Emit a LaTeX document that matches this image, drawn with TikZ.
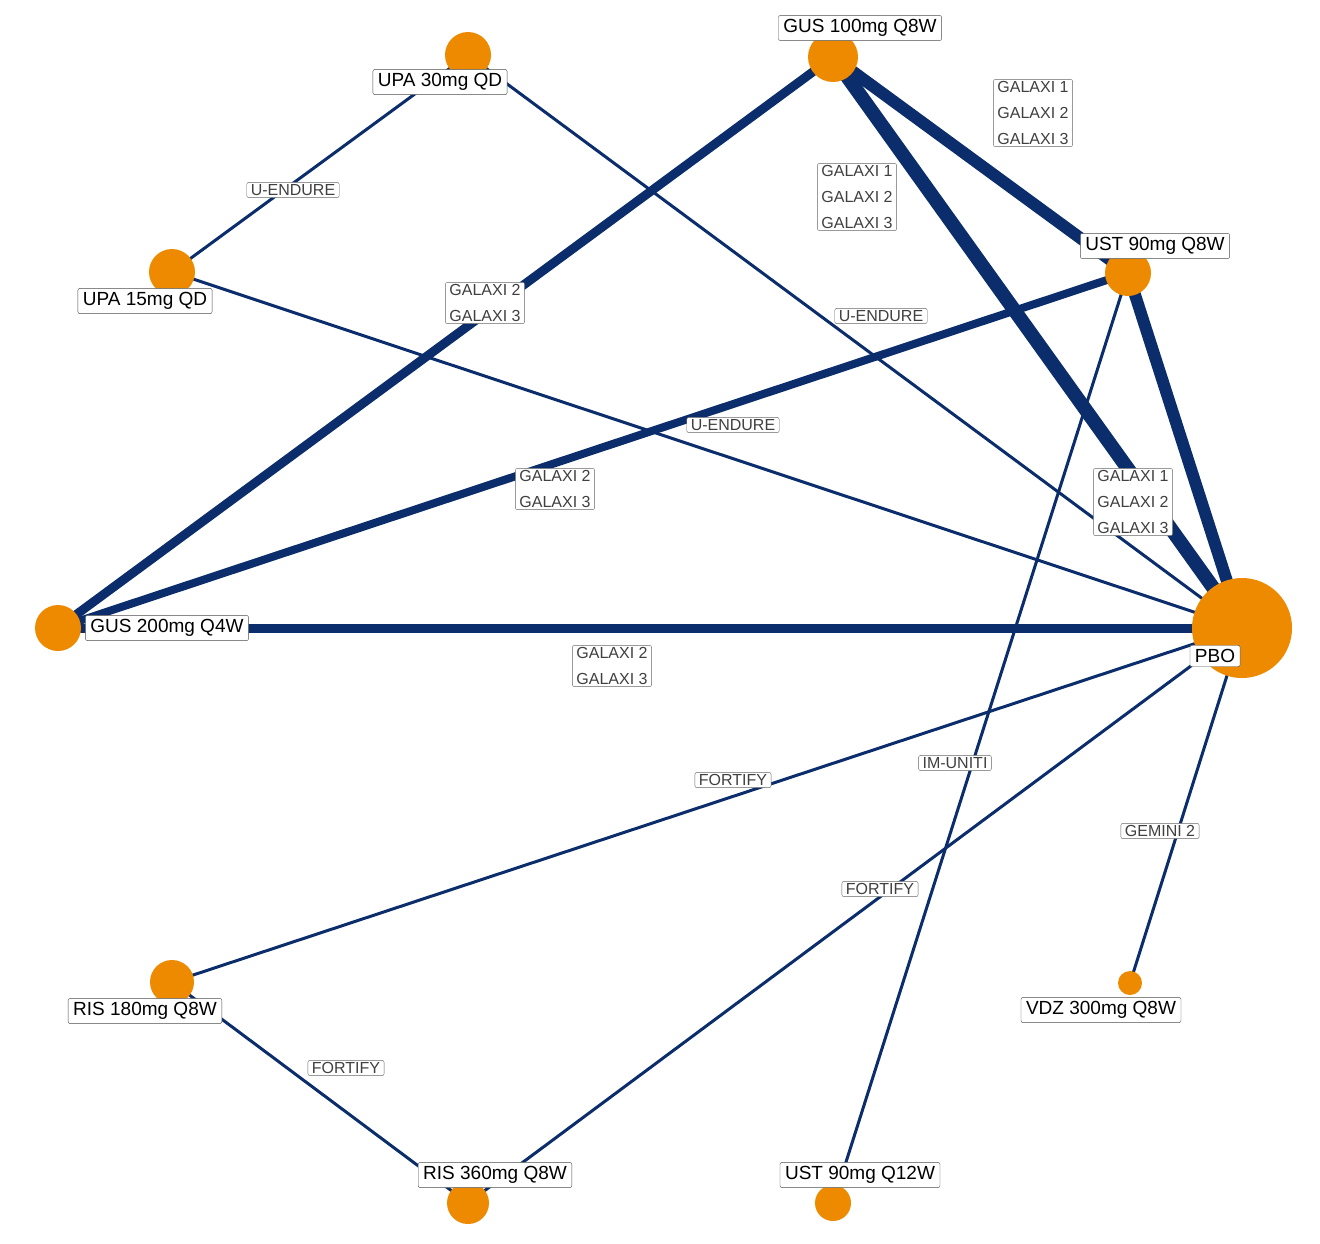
\documentclass[tikz,border=0pt]{standalone}
\usepackage{fontspec}
\setmainfont{Liberation Sans}
\definecolor{navy}{HTML}{0B2D6B}
\definecolor{dot}{HTML}{EE8A00}
\begin{document}
\begin{tikzpicture}[x=1pt,y=-1pt,
  dotc/.style={circle,fill=dot,inner sep=0pt,minimum size=#1},
  tlab/.style={draw=black!70,fill=white,rounded corners=2pt,font=\fontsize{19}{20}\selectfont,inner xsep=5pt,inner ysep=4pt},
  elab/.style={draw=black!60,fill=white,rounded corners=2pt,font=\fontsize{16}{26}\selectfont,text=black!75,align=left,inner xsep=4pt,inner ysep=2pt},
  thin edge/.style={draw=navy,line width=3pt},
  thick edge/.style={draw=navy,line width=#1}]
\useasboundingbox (0,0) rectangle (1320,1243);
\path
  (833,57) coordinate (gus100)
  (468,55) coordinate (upa30)
  (1128,273) coordinate (ust90)
  (172,272) coordinate (upa15)
  (58,628) coordinate (gus200)
  (1242,628) coordinate (pbo)
  (172,982) coordinate (ris180)
  (1130,983) coordinate (vdz)
  (468,1203) coordinate (ris360)
  (833,1203) coordinate (ust12);
% edges
\draw[thin edge] (upa30) -- (upa15);
\draw[thin edge] (upa30) -- (pbo);
\draw[thin edge] (upa15) -- (pbo);
\draw[thin edge] (ust90) -- (ust12);
\draw[thin edge] (pbo) -- (ris180);
\draw[thin edge] (pbo) -- (ris360);
\draw[thin edge] (ris180) -- (ris360);
\draw[thin edge] (pbo) -- (vdz);
\draw[thick edge=9pt] (gus100) -- (gus200);
\draw[thick edge=12pt] (gus100) -- (ust90);
\draw[thick edge=14pt] (gus100) -- (pbo);
\draw[thick edge=8pt] (ust90) -- (gus200);
\draw[thick edge=12pt] (ust90) -- (pbo);
\draw[thick edge=9pt] (gus200) -- (pbo);
% dots
\node[dotc=50pt] (dgus100) at (gus100) {};
\node[dotc=46pt] (dupa30) at (upa30) {};
\node[dotc=46pt] (dust90) at (ust90) {};
\node[dotc=46pt] (dupa15) at (upa15) {};
\node[dotc=46pt] (dgus200) at (gus200) {};
\node[dotc=100pt] (dpbo) at (pbo) {};
\node[dotc=44pt] (dris180) at (ris180) {};
\node[dotc=24pt] (dvdz) at (vdz) {};
\node[dotc=42pt] (dris360) at (ris360) {};
\node[dotc=36pt] (dust12) at (ust12) {};
% labels
\node[tlab] (lgus100) at (860,28) {GUS 100mg Q8W};
\node[tlab] (lupa30) at (440,82) {UPA 30mg QD};
\node[tlab] (lust90) at (1155,246) {UST 90mg Q8W};
\node[tlab] (lupa15) at (145,301) {UPA 15mg QD};
\node[tlab] (lgus200) at (167,628) {GUS 200mg Q4W};
\node[tlab] (lpbo) at (1215,656) {PBO};
\node[tlab] (lris180) at (145,1011) {RIS 180mg Q8W};
\node[tlab] (lvdz) at (1101,1010) {VDZ 300mg Q8W};
\node[tlab] (lris360) at (495,1175) {RIS 360mg Q8W};
\node[tlab] (lust12) at (860,1175) {UST 90mg Q12W};
% edge labels
\node[elab] (e1) at (293,190) {U-ENDURE};
\node[elab] (e2) at (881,316) {U-ENDURE};
\node[elab] (e3) at (733,425) {U-ENDURE};
\node[elab] (e4) at (485,303) {GALAXI 2\\GALAXI 3};
\node[elab] (e5) at (1033,113) {GALAXI 1\\GALAXI 2\\GALAXI 3};
\node[elab] (e6) at (857,197) {GALAXI 1\\GALAXI 2\\GALAXI 3};
\node[elab] (e7) at (555,489) {GALAXI 2\\GALAXI 3};
\node[elab] (e8) at (1133,502) {GALAXI 1\\GALAXI 2\\GALAXI 3};
\node[elab] (e9) at (612,666) {GALAXI 2\\GALAXI 3};
\node[elab] (e10) at (955,763) {IM-UNITI};
\node[elab] (e11) at (733,780) {FORTIFY};
\node[elab] (e12) at (880,889) {FORTIFY};
\node[elab] (e13) at (346,1068) {FORTIFY};
\node[elab] (e14) at (1160,831) {GEMINI 2};
\end{tikzpicture}
\end{document}
